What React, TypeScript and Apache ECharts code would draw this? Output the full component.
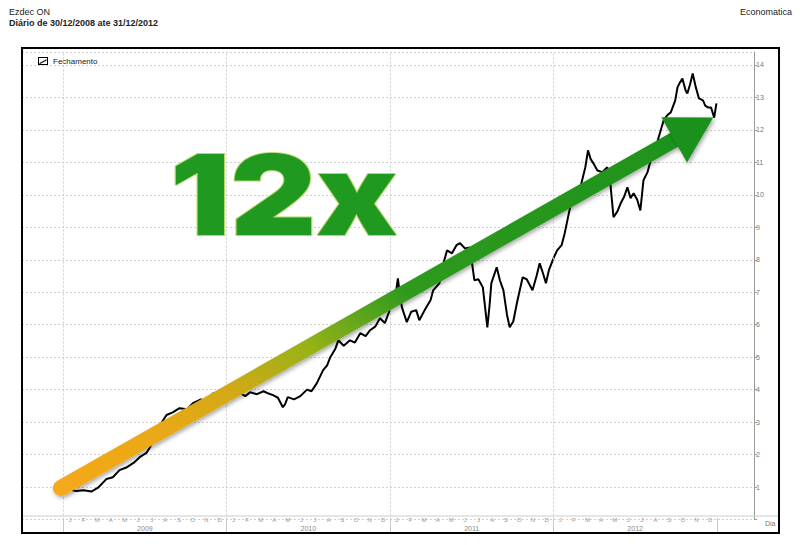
import React, { useEffect, useRef } from "react";
import * as echarts from "echarts";

// ---- data ----
const dates = [
  "2008-12-30","2009-01-15","2009-01-30","2009-02-16","2009-03-05","2009-03-20","2009-04-08","2009-04-22",
  "2009-05-07","2009-05-22","2009-06-08","2009-06-21","2009-07-06","2009-07-15","2009-07-31","2009-08-12",
  "2009-08-20","2009-09-03","2009-09-18","2009-10-05","2009-10-18","2009-11-05","2009-11-18","2009-12-02",
  "2009-12-16","2010-01-05","2010-01-20","2010-02-01","2010-02-12","2010-02-23","2010-03-10","2010-03-25",
  "2010-04-05","2010-04-15","2010-04-26","2010-05-07","2010-05-12","2010-05-18","2010-06-01","2010-06-15",
  "2010-06-30","2010-07-10","2010-07-22","2010-08-05","2010-08-14","2010-08-21","2010-09-01","2010-09-08",
  "2010-09-20","2010-10-04","2010-10-15","2010-10-27","2010-11-08","2010-11-18","2010-11-30","2010-12-10",
  "2010-12-21","2011-01-05","2011-01-14","2011-01-19","2011-01-24","2011-01-28","2011-02-08","2011-02-18",
  "2011-03-01","2011-03-08","2011-03-20","2011-04-02","2011-04-08","2011-04-22","2011-05-01","2011-05-09",
  "2011-05-20","2011-05-30","2011-06-07","2011-06-18","2011-06-29","2011-07-09","2011-07-18","2011-07-28",
  "2011-08-07","2011-08-12","2011-08-16","2011-08-28","2011-09-04","2011-09-12","2011-09-20","2011-09-26",
  "2011-10-04","2011-10-12","2011-10-25","2011-11-03","2011-11-16","2011-11-25","2011-12-02","2011-12-09",
  "2011-12-16","2011-12-23","2012-01-03","2012-01-10","2012-01-20","2012-01-27","2012-02-08","2012-02-20",
  "2012-03-02","2012-03-13","2012-03-19","2012-03-25","2012-03-31","2012-04-09","2012-04-20","2012-05-01",
  "2012-05-08","2012-05-15","2012-05-24","2012-05-31","2012-06-08","2012-06-15","2012-06-22","2012-06-29",
  "2012-07-07","2012-07-14","2012-07-21","2012-07-30","2012-08-06","2012-08-14","2012-08-22","2012-09-04",
  "2012-09-12","2012-09-20","2012-09-30","2012-10-05","2012-10-10","2012-10-16","2012-10-23","2012-10-27",
  "2012-11-02","2012-11-08","2012-11-15","2012-11-22","2012-12-01","2012-12-06","2012-12-12","2012-12-19",
  "2012-12-26","2012-12-31"
];
const closes = [
  0.97,0.92,0.88,0.90,0.86,0.98,1.25,1.30,
  1.52,1.60,1.75,1.92,2.05,2.25,2.75,3.05,
  3.22,3.30,3.43,3.40,3.58,3.70,3.62,3.89,
  3.80,3.85,3.95,3.89,3.80,3.92,3.86,3.95,
  3.88,3.83,3.75,3.46,3.55,3.77,3.70,3.80,
  4.00,3.95,4.20,4.60,4.75,5.00,5.25,5.52,
  5.35,5.52,5.45,5.74,5.65,5.83,5.95,6.20,
  6.05,6.60,6.90,7.43,6.90,6.54,6.08,6.40,
  6.45,6.14,6.45,6.75,7.06,7.28,7.90,8.29,
  8.20,8.45,8.51,8.35,8.38,7.37,7.40,7.15,
  5.92,6.60,7.28,7.77,7.37,7.06,6.30,5.92,
  6.10,6.66,7.46,7.40,7.06,7.50,7.89,7.60,
  7.28,7.70,8.08,8.29,8.45,8.82,9.62,9.90,
  10.23,10.85,11.37,11.10,10.97,10.75,10.70,10.85,
  10.35,9.31,9.50,9.74,9.95,10.23,9.90,10.05,
  9.85,9.52,10.45,10.70,11.06,11.40,11.68,12.29,
  12.45,12.54,12.91,13.31,13.45,13.58,13.22,13.12,
  13.40,13.74,13.31,12.97,12.91,12.75,12.69,12.69,
  12.38,12.82
];
const yearLabels = ["2009", "2010", "2011", "2012"];
const monthLetters = ["J", "F", "M", "A", "M", "J", "J", "A", "S", "O", "N", "D"];
const yearStarts = ["2009-01-01", "2010-01-01", "2011-01-01", "2012-01-01"];
const xMin = "2008-10-01";
const xMax = "2013-03-25";
const yMin = 0;
const yMax = 14.4;
const seriesName = "Fechamento";
const arrowTail: [string, number] = ["2008-12-27", 0.97];
const arrowTip: [string, number] = ["2012-12-24", 12.38];

export default function App() {
  const ref = useRef<HTMLDivElement>(null);
  useEffect(() => {
    document.body.style.margin = "0";
    const chart = echarts.init(ref.current!, null, { renderer: "svg" });
    const W = 800;
    const gl = 22, gr = 46, gt = 52, gb = 25.5;
    const tMin = new Date(xMin + "T00:00:00").getTime();
    const tMax = new Date(xMax + "T00:00:00").getTime();
    const plotW = W - gl - gr;
    const px = (d: string) => gl + ((new Date(d + "T00:00:00").getTime() - tMin) / (tMax - tMin)) * plotW;
    const bandLeft = px("2009-01-01");
    const bandRight = W - px("2013-01-01");

    const monthCats = [] as string[];
    for (let i = 0; i < yearLabels.length * 12; i++) monthCats.push(String(i));

    const font = "'Liberation Sans', Arial, sans-serif";
    chart.setOption({
      animation: false,
      backgroundColor: "#fff",
      textStyle: { fontFamily: font },
      legend: {
        left: 33,
        top: 52,
        itemWidth: 10,
        itemHeight: 8,
        itemGap: 6,
        textStyle: { fontSize: 8, color: "#222", fontFamily: font },
        data: [{ name: seriesName, icon: "path://M0 0H10V8H0ZM1 1V7H9V1ZM1.5 6L8.5 2.2L8.5 3.6L1.5 7.2Z" }],
      },
      grid: [
        { left: gl, right: gr, top: gt, bottom: gb },
        { left: bandLeft, right: bandRight, top: 516, height: 17 },
      ],
      xAxis: [
        {
          type: "time",
          gridIndex: 0,
          min: xMin,
          max: xMax,
          axisLine: { show: false },
          axisTick: { show: false },
          axisLabel: { show: false },
          splitLine: { show: false },
        },
        {
          type: "category",
          gridIndex: 1,
          position: "top",
          data: monthCats,
          axisLine: { show: false },
          axisTick: { show: false },
          axisLabel: {
            inside: true,
            interval: 0,
            margin: 1,
            fontSize: 6,
            color: "#999",
            formatter: (_v: string, idx: number) => monthLetters[idx % 12],
          },
        },
        {
          type: "category",
          gridIndex: 1,
          position: "bottom",
          data: yearLabels,
          axisLine: { show: false },
          axisTick: {
            show: true, inside: true, length: 15,
            lineStyle: { color: "#c8c8c8" },
          },
          axisLabel: { inside: true, margin: 1, fontSize: 7, color: "#888" },
        },
      ],
      yAxis: [
        {
          type: "value",
          gridIndex: 0,
          position: "right",
          min: yMin,
          max: yMax,
          interval: 1,
          axisLine: { show: true, lineStyle: { color: "#999", width: 1 } },
          axisTick: { show: true, length: 3, lineStyle: { color: "#999" } },
          axisLabel: {
            fontSize: 7,
            color: "#777",
            margin: 2,
            showMaxLabel: false,
            formatter: (v: number) => (v >= 1 && Number.isInteger(v) ? String(v) : ""),
          },
          splitLine: { show: true, lineStyle: { color: "#cfcfcf", type: [2, 2], width: 1 } },
        },
        { type: "value", gridIndex: 1, show: false },
      ],
      series: [
        {
          name: seriesName,
          type: "line",
          xAxisIndex: 0,
          yAxisIndex: 0,
          data: dates.map((d, i) => [d, closes[i]]),
          showSymbol: false,
          lineStyle: { color: "#000", width: 2 },
          itemStyle: { color: "#000" },
          z: 3,
          markLine: {
            silent: true,
            symbol: ["none", "none"],
            label: { show: false },
            lineStyle: { color: "#cfcfcf", type: [2, 2], width: 1 },
            data: yearStarts.map((d) => ({ xAxis: d })),
          },
        },
      ],
    });

    const tail = chart.convertToPixel({ gridIndex: 0 }, arrowTail as any) as number[];
    const tip = chart.convertToPixel({ gridIndex: 0 }, arrowTip as any) as number[];
    const dx = tip[0] - tail[0], dy = tip[1] - tail[1];
    const len = Math.sqrt(dx * dx + dy * dy);
    const ux = dx / len, uy = dy / len;
    const nx = -uy, ny = ux;
    const headLen = 45, headHalf = 26;
    const bx = tip[0] - ux * headLen, by = tip[1] - uy * headLen;
    const shaftEnd = [tip[0] - ux * (headLen - 6), tip[1] - uy * (headLen - 6)];

    const shadow = { shadowBlur: 4, shadowColor: "rgba(0,0,0,0.35)", shadowOffsetX: 1.5, shadowOffsetY: 2 };

    chart.setOption({
      graphic: [
        {
          id: "frame", type: "rect", z: 50, silent: true,
          shape: { x: 22, y: 48, width: 757, height: 485 },
          style: { fill: "none", stroke: "#000", lineWidth: 2 },
        },
        {
          id: "sep", type: "line", z: 40, silent: true,
          shape: { x1: 22, y1: 516, x2: 779, y2: 516 },
          style: { stroke: "#cccccc", lineWidth: 1 },
        },
        { id: "dia", type: "text", x: 765, y: 520, z: 40, style: { text: "Dia", fontSize: 7, fill: "#777", fontFamily: font } },
        { id: "t1", type: "text", x: 9, y: 7, style: { text: "Ezdec ON", fontSize: 9, fill: "#222", fontFamily: font } },
        { id: "t2", type: "text", x: 9, y: 18, style: { text: "Diário de 30/12/2008 ate 31/12/2012", fontSize: 9, fontWeight: "bold", fill: "#222", fontFamily: font } },
        { id: "t3", type: "text", x: 792, y: 7, style: { text: "Economatica", fontSize: 9, fill: "#222", align: "right", fontFamily: font } },
        {
          id: "shaft", type: "line", z: 60, silent: true,
          shape: { x1: tail[0], y1: tail[1], x2: shaftEnd[0], y2: shaftEnd[1] },
          style: {
            lineWidth: 16,
            lineCap: "round",
            stroke: new echarts.graphic.LinearGradient(0, 1, 1, 0, [
              { offset: 0, color: "#F5A81C" },
              { offset: 0.15, color: "#EBA814" },
              { offset: 0.27, color: "#D4A912" },
              { offset: 0.4, color: "#98B217" },
              { offset: 0.48, color: "#62A61C" },
              { offset: 0.56, color: "#2E9A1E" },
              { offset: 1, color: "#1E921E" },
            ]),
            ...shadow,
          },
        },
        {
          id: "head", type: "polygon", z: 61, silent: true,
          shape: {
            points: [
              [tip[0], tip[1]],
              [bx + nx * headHalf, by + ny * headHalf],
              [bx - nx * headHalf, by - ny * headHalf],
            ],
          },
          style: { fill: "#1E901E", ...shadow },
        },
        {
          id: "big", type: "text", x: 170, y: 194.5, z: 70, silent: true,
          scaleX: 1.2,
          style: {
            text: "12x",
            fontSize: 111,
            fontWeight: 900,
            fontFamily: "Inter, Roboto, 'DejaVu Sans', sans-serif",
            verticalAlign: "middle",
            align: "left",
            fill: "#1F991F",
            stroke: "#b9d86c",
            lineWidth: 2,
            shadowBlur: 4,
            shadowColor: "rgba(0,0,0,0.45)",
            shadowOffsetX: 2,
            shadowOffsetY: 2,
          },
        },
      ],
    });

    return () => chart.dispose();
  }, []);
  return (
    <div
      ref={ref}
      style={{ position: "fixed", left: 0, top: 0, width: 800, height: 545, background: "#fff" }}
    />
  );
}
